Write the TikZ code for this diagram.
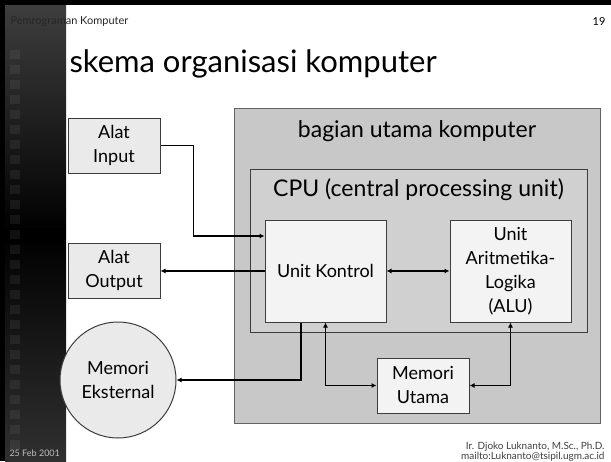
\documentclass[tikz,border=0pt]{standalone}
\usepackage{fontspec}
\setmainfont{Lato}
\usepackage{tikz}
\usetikzlibrary{arrows.meta}
\usetikzlibrary{positioning}
\definecolor{framegray}{RGB}{200,200,200}
\definecolor{cpugray}{RGB}{208,208,208}
\definecolor{unitfill}{RGB}{243,243,243}
\definecolor{devfill}{RGB}{234,234,234}
\definecolor{edgegray}{RGB}{60,60,60}
\definecolor{sidetop}{RGB}{62,62,62}
\definecolor{sidebot}{RGB}{48,48,48}

\begin{document}
\begin{tikzpicture}[x=1pt, y=-1pt, line width=1pt,
    unitbox/.style={draw=edgegray, fill=unitfill, align=center, inner sep=0pt,
        font=\fontsize{18}{24}\selectfont},
    devbox/.style={unitbox, fill=devfill},
    flow/.style={line width=1.2pt, -{Latex[length=5pt,width=5pt]}},
    twoflow/.style={line width=1.2pt, {Latex[length=5pt,width=5pt]}-{Latex[length=5pt,width=5pt]}},
    smalltxt/.style={font=\fontsize{10}{10}\selectfont, inner sep=0pt}]
    \useasboundingbox (0, 0) rectangle (611, 461);
    \fill[white] (0, 0) rectangle (611, 461);

% slide frame
    % draw side bar
    \shade[top color=sidetop, bottom color=sidebot, middle color=black] (5, 5) rectangle (66, 461);
    \fill[black] (5, 228) rectangle (66, 244);
    \foreach \yy in {50, 65, ..., 440}
        \fill[gray!70, opacity=0.1] (10, \yy) rectangle (20, \yy+9);
    % draw black border
    \fill[black] (0, 0) rectangle (611, 5);
    \fill[black] (0, 0) rectangle (5, 461);

    % draw header and footer
    \node[smalltxt, anchor=west, text=black!85, font=\fontsize{11}{11}\selectfont] (course) at (10, 22) {Pemrograman Komputer};
    \node[smalltxt, anchor=east, font=\fontsize{11}{11}\selectfont] (pageno) at (606, 22) {19};
    \node[smalltxt, anchor=west, text=gray!50, font=\fontsize{9}{9}\selectfont] (date) at (9, 453) {25 Feb 2001};
    \node[smalltxt, anchor=east, align=right, text=black!75] (author) at (605, 452)
        {Ir. Djoko Luknanto, M.Sc., Ph.D.\\mailto:Luknanto@tsipil.ugm.ac.id};

    % draw title
    \node[anchor=west, inner sep=0pt, font=\fontsize{31}{36}\selectfont] (title) at (69, 64) {skema organisasi komputer};

% computer
    % draw outer boxes
    \node[draw=edgegray!80, fill=framegray, minimum width=366pt, minimum height=315pt] (main) at (417, 265.5) {};
    \node[font=\fontsize{23}{26}\selectfont, inner sep=0pt] (mainlbl) at (417, 131) {bagian utama komputer};
    \node[draw=edgegray, fill=cpugray, minimum width=337pt, minimum height=163pt] (cpu) at (418.5, 250.5) {};
    \node[font=\fontsize{23}{26}\selectfont, inner sep=0pt] (cpulbl) at (418.5, 190) {CPU (central processing unit)};

    % draw units
    \node[unitbox, minimum width=121pt, minimum height=102pt] (kontrol) at (325.5, 271) {Unit Kontrol};
    \node[unitbox, minimum width=121pt, minimum height=102pt] (alu) at (510.5, 271) {Unit\\Aritmetika-\\Logika\\(ALU)};
    \node[unitbox, minimum width=92pt, minimum height=55pt] (utama) at (423, 385.5) {Memori\\Utama};

    % draw devices
    \node[devbox, minimum width=92pt, minimum height=55pt] (input) at (114, 145.5) {Alat\\Input};
    \node[devbox, minimum width=92pt, minimum height=55pt] (output) at (114, 270.5) {Alat\\Output};
    \node[devbox, circle, minimum size=116pt] (eksternal) at (118, 380) {Memori\\Eksternal};

    % draw connectors
    \draw[flow] (input.east) -- ++(33, 0) |- ([yshift=35pt]kontrol.west);
    \draw[flow] (kontrol.west) -- (kontrol.west -| output.east);
    \draw[twoflow] (kontrol.east) -- (alu.west);
    \draw[flow] ([xshift=-24.5pt]kontrol.south) |- (eksternal.east);
    \draw[twoflow] (kontrol.south) |- (utama.west);
    \draw[twoflow] (alu.south) |- (utama.east);
\end{tikzpicture}
\end{document}
